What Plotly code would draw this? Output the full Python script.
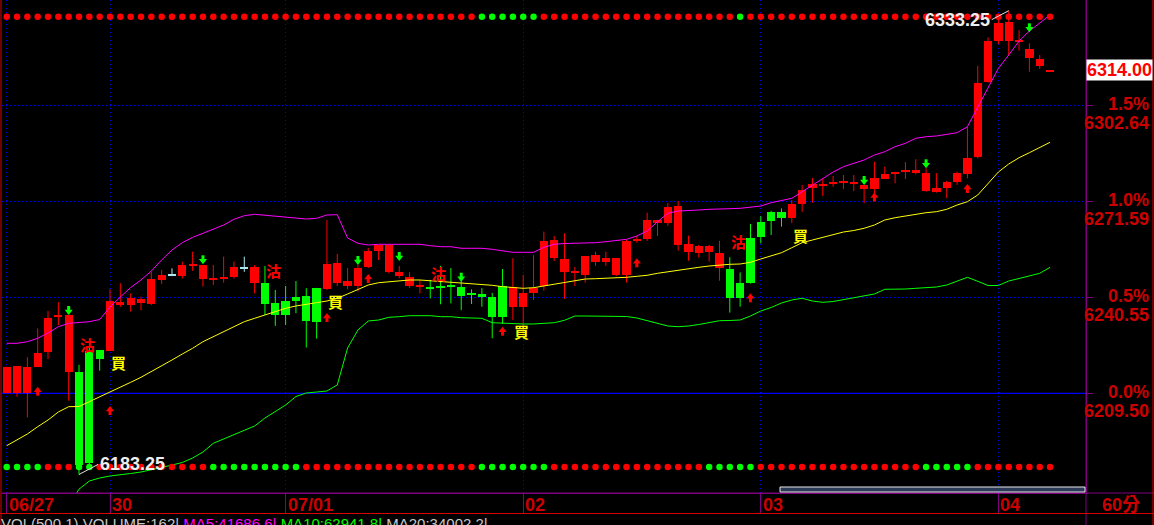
import plotly.graph_objects as go

# ---------------- data (60-minute bars, index 0..101) ----------------
opens = [6209.5, 6209.5, 6209.5, 6218.1, 6223.0, 6234.3, 6216.5, 6216.5, 6223.2, 6223.5,
         6223.3, 6238.1, 6238.1, 6238.8, 6238.4, 6246.2, 6247.9, 6247.4, 6250.7, 6246.5,
         6246.2, 6246.6, 6247.1, 6250.1, 6245.2, 6245.2, 6238.7, 6239.4, 6240.7, 6241.0,
         6243.6, 6243.1, 6245.2, 6244.2, 6244.2, 6250.4, 6255.5, 6248.7, 6247.4, 6244.2,
         6244.0, 6243.6, 6243.9, 6244.3, 6243.8, 6241.6, 6241.6, 6240.7, 6244.2, 6237.5,
         6237.5, 6242.0, 6244.2, 6253.4, 6248.8, 6248.7, 6247.8, 6252.1, 6252.0, 6247.8,
         6247.8, 6258.9, 6259.3, 6264.7, 6264.5, 6257.5, 6255.3, 6254.9, 6255.3, 6249.9,
         6249.7, 6245.2, 6259.6, 6264.9, 6268.0, 6268.1, 6266.3, 6270.7, 6275.8, 6276.7,
         6277.2, 6277.8, 6277.3, 6275.5, 6275.5, 6278.8, 6280.4, 6281.3, 6280.8, 6274.9,
         6274.7, 6276.0, 6277.9, 6280.4, 6285.8, 6310.3, 6323.4, 6323.4, 6323.4, 6318.0,
         6315.5, 6313.6]
highs = [6218.1, 6218.3, 6221.2, 6230.5, 6236.1, 6239.0, 6234.8, 6218.7, 6224.5, 6223.5,
         6243.2, 6245.1, 6241.8, 6240.8, 6248.8, 6249.4, 6249.9, 6252.1, 6255.3, 6251.0,
         6251.0, 6253.7, 6252.1, 6253.7, 6251.0, 6250.7, 6242.9, 6244.2, 6245.8, 6243.5,
         6243.6, 6265.6, 6254.6, 6250.0, 6251.0, 6256.5, 6257.5, 6257.5, 6250.7, 6248.7,
         6246.2, 6246.2, 6250.7, 6250.0, 6246.2, 6243.1, 6243.5, 6242.0, 6249.7, 6253.2,
         6247.8, 6254.2, 6261.8, 6260.4, 6261.3, 6250.4, 6253.9, 6255.3, 6255.3, 6253.3,
         6259.1, 6260.4, 6267.9, 6265.6, 6271.0, 6271.7, 6260.5, 6257.5, 6257.5, 6258.8,
         6253.5, 6248.6, 6264.3, 6266.8, 6268.5, 6269.3, 6272.0, 6276.9, 6279.1, 6279.1,
         6279.8, 6280.1, 6280.1, 6276.9, 6284.4, 6282.8, 6281.1, 6284.3, 6285.2, 6282.3,
         6280.7, 6278.2, 6281.2, 6295.7, 6315.4, 6324.6, 6330.5, 6333.25, 6327.0, 6322.7,
         6318.9, 6314.0]
lows = [6209.5, 6208.4, 6201.7, 6218.1, 6220.6, 6231.5, 6207.1, 6183.25, 6185.5, 6216.8,
        6223.3, 6237.5, 6235.9, 6236.4, 6238.1, 6244.9, 6247.4, 6246.6, 6249.1, 6244.0,
        6244.5, 6245.3, 6246.6, 6248.8, 6241.8, 6234.8, 6231.3, 6231.6, 6235.4, 6224.3,
        6227.2, 6242.9, 6244.2, 6243.1, 6242.4, 6250.0, 6252.6, 6248.3, 6246.7, 6243.6,
        6241.8, 6240.2, 6238.3, 6238.6, 6236.4, 6238.4, 6237.5, 6227.3, 6231.9, 6233.2,
        6227.8, 6239.7, 6242.7, 6252.3, 6240.0, 6244.2, 6245.3, 6250.7, 6250.7, 6247.4,
        6245.3, 6258.2, 6258.8, 6260.4, 6263.7, 6255.6, 6252.4, 6253.4, 6252.1, 6245.9,
        6235.6, 6237.5, 6245.0, 6258.0, 6260.7, 6263.4, 6264.5, 6268.2, 6271.1, 6273.3,
        6276.3, 6275.6, 6274.9, 6271.0, 6273.6, 6278.8, 6277.4, 6278.8, 6280.3, 6274.7,
        6274.4, 6272.6, 6276.9, 6279.0, 6285.5, 6310.0, 6322.4, 6318.9, 6320.3, 6313.5,
        6314.4, 6313.6]
closes = [6218.1, 6218.3, 6217.9, 6222.6, 6234.0, 6234.8, 6234.8, 6186.3, 6186.9, 6220.6,
          6239.4, 6239.1, 6240.4, 6240.0, 6246.5, 6247.8, 6247.9, 6251.0, 6251.0, 6251.0,
          6246.8, 6247.1, 6250.4, 6250.1, 6250.4, 6238.4, 6234.8, 6234.8, 6239.4, 6232.9,
          6232.6, 6251.3, 6251.6, 6245.8, 6250.0, 6255.5, 6257.5, 6257.5, 6248.7, 6247.1,
          6244.3, 6243.3, 6243.6, 6244.1, 6241.1, 6241.4, 6240.7, 6234.3, 6234.3, 6243.8,
          6241.9, 6243.5, 6258.8, 6259.1, 6252.8, 6249.0, 6253.9, 6254.2, 6253.3, 6253.3,
          6258.8, 6259.1, 6265.6, 6265.6, 6269.9, 6270.2, 6257.8, 6257.2, 6257.2, 6254.9,
          6240.2, 6240.2, 6245.3, 6260.2, 6265.3, 6266.3, 6270.7, 6275.3, 6277.2, 6277.0,
          6277.9, 6278.1, 6277.6, 6276.9, 6279.0, 6280.3, 6281.1, 6281.6, 6281.7, 6280.8,
          6275.8, 6277.8, 6280.7, 6285.7, 6310.0, 6323.4, 6329.4, 6329.7, 6323.7, 6320.8,
          6317.6, 6314.0]

# Bollinger bands (upper / middle / lower)
upper = [6225.67, 6225.67, 6226.19, 6227.29, 6229.00, 6231.04, 6232.14, 6232.34, 6232.66, 6233.37,
         6237.41, 6240.65, 6243.72, 6246.15, 6249.06, 6252.61, 6255.85, 6258.21, 6259.95, 6261.25,
         6262.54, 6263.93, 6265.78, 6266.94, 6267.39, 6267.07, 6266.62, 6266.36, 6266.10, 6265.87,
         6266.10, 6267.17, 6267.26, 6259.73, 6258.01, 6257.46, 6257.69, 6257.69, 6257.69, 6257.69,
         6257.69, 6257.24, 6256.92, 6256.92, 6256.40, 6256.40, 6256.40, 6256.07, 6255.62, 6255.10,
         6255.10, 6255.10, 6256.72, 6257.69, 6257.95, 6258.01, 6258.01, 6258.21, 6258.53, 6258.85,
         6259.31, 6260.38, 6261.99, 6265.00, 6267.72, 6268.46, 6268.56, 6268.78, 6269.01, 6269.20,
         6269.20, 6269.33, 6269.66, 6270.08, 6271.15, 6271.79, 6272.57, 6274.70, 6276.87, 6279.13,
         6281.07, 6282.79, 6283.89, 6284.95, 6286.57, 6287.64, 6289.26, 6290.36, 6291.97, 6292.49,
         6292.72, 6293.20, 6293.78, 6295.72, 6302.19, 6308.14, 6314.61, 6318.91, 6323.44, 6326.67,
         6329.16, 6331.85]
middle = [6192.56, 6194.40, 6196.34, 6198.70, 6200.87, 6203.46, 6205.17, 6205.23, 6206.79, 6208.21,
          6209.70, 6211.44, 6213.06, 6214.68, 6216.49, 6218.33, 6220.27, 6222.21, 6224.06, 6226.19,
          6227.81, 6229.42, 6231.04, 6232.66, 6233.76, 6234.83, 6235.89, 6236.99, 6237.74, 6238.38,
          6238.81, 6239.35, 6240.23, 6241.62, 6243.14, 6244.53, 6245.27, 6245.60, 6245.92, 6246.15,
          6246.15, 6245.92, 6245.60, 6245.40, 6245.08, 6245.08, 6244.75, 6244.43, 6243.98, 6243.66,
          6243.46, 6243.66, 6244.20, 6244.85, 6245.50, 6246.05, 6246.47, 6246.57, 6246.70, 6246.79,
          6247.02, 6247.34, 6247.67, 6248.31, 6248.83, 6249.38, 6249.80, 6250.25, 6250.67, 6251.00,
          6251.22, 6251.32, 6251.87, 6252.94, 6253.91, 6254.97, 6256.59, 6258.21, 6259.08, 6259.95,
          6260.93, 6261.67, 6262.15, 6262.87, 6263.93, 6265.55, 6266.29, 6266.84, 6267.49, 6267.91,
          6268.23, 6269.01, 6270.40, 6271.47, 6273.64, 6277.52, 6281.07, 6283.66, 6285.70, 6287.32,
          6288.93, 6290.68]
lower = [None, None, None, None, None, None, 6173.0, 6178.5, 6181.14, 6182.11,
         6182.76, 6183.08, 6183.57, 6184.05, 6184.70, 6185.51, 6186.31, 6187.12, 6188.58, 6190.52,
         6193.33, 6194.72, 6196.02, 6197.47, 6198.93, 6201.51, 6203.62, 6205.72, 6208.47, 6209.60,
         6209.92, 6210.25, 6212.19, 6224.15, 6229.97, 6232.89, 6233.21, 6234.08, 6234.28, 6234.60,
         6234.60, 6234.60, 6234.28, 6234.28, 6233.95, 6233.95, 6233.76, 6232.34, 6232.14, 6231.92,
         6231.92, 6231.92, 6232.14, 6232.34, 6233.11, 6234.50, 6234.50, 6234.50, 6234.50, 6234.50,
         6234.34, 6233.86, 6232.98, 6232.08, 6231.27, 6231.04, 6231.27, 6231.75, 6232.40, 6232.98,
         6233.05, 6233.21, 6234.50, 6236.12, 6237.25, 6238.71, 6239.68, 6240.23, 6239.35, 6238.93,
         6239.19, 6239.84, 6240.49, 6240.97, 6241.62, 6243.14, 6243.14, 6243.23, 6243.46, 6243.66,
         6243.88, 6244.53, 6245.82, 6247.02, 6245.73, 6244.37, 6244.37, 6245.82, 6246.63, 6247.37,
         6248.31, 6250.25]

# session (day) labels and the bar index where each starts
day_labels = ["06/27", "30", "07/01", "02", "03", "04"]
day_start = [0, 10, 27, 50, 73, 96]

# right-hand scale: percent change vs. reference price
pct_labels = ["0.0%", "0.5%", "1.0%", "1.5%"]
pct_prices = [6209.50, 6240.55, 6271.59, 6302.64]
ref_price = 6209.50
last_price = 6314.00
high_label = 6333.25
low_label = 6183.25

# buy (red up) / sell (green down) arrow signals: bar index, arrow tip price
buy_bars = [3, 10, 31, 35, 48, 61, 72, 84, 93]
buy_tips = [6211.64, 6205.40, 6235.47, 6248.09, 6231.04, 6253.16, 6241.84, 6274.44, 6277.19]
sell_bars = [6, 19, 34, 38, 44, 83, 89, 99]
sell_tips = [6234.83, 6251.22, 6251.00, 6252.29, 6245.60, 6276.87, 6282.27, 6326.25]

# text signals
sig_bars = [8, 11, 26, 32, 42, 50, 71, 77]
sig_text = ["沽", "買", "沽", "買", "沽", "買", "沽", "買"]
sig_price = [6225.13, 6219.62, 6249.38, 6239.35, 6248.09, 6229.65, 6258.76, 6260.70]

# state dots (R = red, G = green) along the top and bottom rows
top_state = ("RRRRRRRRRR" "RRRRRRRRRR" "RRRRRRRRRR" "RRRRRRRRRR" "RRRRRRGGGG"
             "GGRRRRRRRR" "RRRRRRRRRR" "RGRRRRRRRR" "RRRRRRRRRR" "RRRRRRRRRR" "RR")
bottom_state = ("GGGGRRRGGR" "RRRRRRRRRR" "GGGGGGGGGR" "RRRRRRRRRR" "RRRRRRGGGG"
                "GGGRRRRRRR" "RRRRRRRRGG" "GGGRRRRRRR" "RRRRRRRRRG" "GGGGRRRRRR" "RR")
top_level = 6331.3
bottom_level = 6185.67

vol_text = [("VOL(500,1) VOLUME:162| ", "#c8c8c8"), ("MA5:41686.6| ", "#ff00ff"),
            ("MA10:62941.8| ", "#00ff00"), ("MA20:34002.2|", "#c8c8c8")]

# ---------------- layout constants ----------------
W, H = 1154, 525
ML, MR, MT, MB = 2, 68, 0, 32
PW, PH = W - ML - MR, H - MT - MB
Y0, Y1 = 6177.26, 6336.70
X0, X1 = -0.455, 104.48
u = (Y1 - Y0) / PH          # price per pixel

RED, GREEN, CYAN = "#ff0000", "#00ff00", "#a8e8f0"
AXIS_RED = "#cc0000"
PURPLE = "#800080"
GRID = "#0000ff"

n = len(opens)
idx = list(range(n))


def ccolor(o, c):
    if c > o:
        return RED
    if c < o:
        return GREEN
    return CYAN


colors = [ccolor(o, c) for o, c in zip(opens, closes)]
min_h = 2 * u
body_base, body_h = [], []
for o, c in zip(opens, closes):
    if abs(c - o) >= min_h:
        body_base.append(min(o, c))
        body_h.append(abs(c - o))
    else:
        body_base.append((o + c) / 2 - min_h / 2)
        body_h.append(min_h)

fig = go.Figure()

# wicks
for col in (RED, GREEN, CYAN):
    wx, wy = [], []
    for i in idx:
        if colors[i] == col:
            wx += [i, i, None]
            wy += [lows[i], highs[i], None]
    if wx:
        fig.add_trace(go.Scatter(x=wx, y=wy, mode="lines", line=dict(color=col, width=1),
                                 hoverinfo="skip"))

# bodies
fig.add_trace(go.Bar(x=idx, y=body_h, base=body_base, width=0.8,
                     marker=dict(color=colors, line=dict(width=0)), hoverinfo="skip"))

# bands
fig.add_trace(go.Scatter(x=idx, y=lower, mode="lines", line=dict(color="#00ff00", width=1),
                         hoverinfo="skip"))
fig.add_trace(go.Scatter(x=idx, y=middle, mode="lines", line=dict(color="#ffff00", width=1),
                         hoverinfo="skip"))
fig.add_trace(go.Scatter(x=idx, y=upper, mode="lines", line=dict(color="#ff00ff", width=1),
                         hoverinfo="skip"))

# state dots
cmap = {"R": "#ff0000", "G": "#00ff00"}
fig.add_trace(go.Scatter(x=idx, y=[top_level] * n, mode="markers",
                         marker=dict(size=6.5, color=[cmap[s] for s in top_state], line=dict(width=0)),
                         hoverinfo="skip"))
fig.add_trace(go.Scatter(x=idx, y=[bottom_level] * n, mode="markers",
                         marker=dict(size=6.5, color=[cmap[s] for s in bottom_state], line=dict(width=0)),
                         hoverinfo="skip"))

# arrows: stems + heads
sx, sy = [], []
for b, t in zip(buy_bars, buy_tips):
    sx += [b, b, None]
    sy += [t - 4 * u, t - 9 * u, None]
fig.add_trace(go.Scatter(x=sx, y=sy, mode="lines", line=dict(color=RED, width=3), hoverinfo="skip"))
fig.add_trace(go.Scatter(x=buy_bars, y=[t - 3.5 * u for t in buy_tips], mode="markers",
                         marker=dict(symbol="triangle-up", size=7, color=RED, line=dict(width=0)),
                         hoverinfo="skip"))
sx, sy = [], []
for b, t in zip(sell_bars, sell_tips):
    sx += [b, b, None]
    sy += [t + 4 * u, t + 9 * u, None]
fig.add_trace(go.Scatter(x=sx, y=sy, mode="lines", line=dict(color=GREEN, width=3), hoverinfo="skip"))
fig.add_trace(go.Scatter(x=sell_bars, y=[t + 3.5 * u for t in sell_tips], mode="markers",
                         marker=dict(symbol="triangle-down", size=7, color=GREEN, line=dict(width=0)),
                         hoverinfo="skip"))

ann = []
# text signals
for b, t, p in zip(sig_bars, sig_text, sig_price):
    ann.append(dict(x=b, y=p, xref="x", yref="y", text="<b>%s</b>" % t, showarrow=False,
                    xshift=-2, font=dict(family="Noto Sans CJK TC", size=15,
                                         color="#ff0000" if t == "沽" else "#ffff00")))

# right axis labels
px_x = lambda px: (px - ML) / PW
px_y = lambda py: (PH - py) / PH
for lab, p in zip(pct_labels, pct_prices):
    ann.append(dict(x=px_x(1151), y=p, xref="paper", yref="y", text="<b>%s</b>" % lab,
                    showarrow=False, xanchor="right", yanchor="middle", yshift=1,
                    font=dict(family="Liberation Sans", size=18, color=AXIS_RED)))
    ann.append(dict(x=px_x(1151), y=p, xref="paper", yref="y", text="<b>%.2f</b>" % p,
                    showarrow=False, xanchor="right", yanchor="middle", yshift=-18,
                    font=dict(family="Liberation Sans", size=18, color=AXIS_RED)))
# last price box
ann.append(dict(x=1.0, y=last_price, xref="paper", yref="y", text="<b>%.2f</b>" % last_price,
                showarrow=False, xanchor="left", yanchor="middle", bgcolor="#ffffff", borderpad=0,
                font=dict(family="Liberation Sans", size=18, color="#ff0000")))
# high / low labels
hi_bar = highs.index(high_label)
lo_bar = lows.index(low_label)
ann.append(dict(x=hi_bar, y=high_label, xref="x", yref="y", text="<b>%.2f</b>" % high_label,
                showarrow=True, arrowhead=0, arrowwidth=1, arrowcolor="#e0e0e0", ax=-17, ay=9,
                xanchor="right", yanchor="middle",
                font=dict(family="Liberation Sans", size=18, color="#eeeeee")))
ann.append(dict(x=lo_bar, y=low_label, xref="x", yref="y", text="<b>%.2f</b>" % low_label,
                showarrow=True, arrowhead=0, arrowwidth=1, arrowcolor="#e0e0e0", ax=19, ay=-10,
                xanchor="left", yanchor="middle",
                font=dict(family="Liberation Sans", size=18, color="#eeeeee")))
# date labels
for lab, b in zip(day_labels, day_start):
    ann.append(dict(x=b, y=px_y(505), xref="x", yref="paper", text="<b>%s</b>" % lab,
                    showarrow=False, xanchor="left", yanchor="middle", xshift=0,
                    font=dict(family="Liberation Sans", size=18, color=AXIS_RED)))
ann.append(dict(x=px_x(1100), y=px_y(505), xref="paper", yref="paper", text="<b>60分</b>",
                showarrow=False, xanchor="left", yanchor="middle",
                font=dict(family="Liberation Sans, Noto Sans CJK TC", size=18, color=AXIS_RED)))
# bottom volume legend (cut by the window edge, as in the source)
vt = "".join('<span style="color:%s">%s</span>' % (c, t) for t, c in vol_text)
ann.append(dict(x=px_x(0), y=px_y(514), xref="paper", yref="paper", text=vt, showarrow=False,
                xanchor="left", yanchor="top", borderpad=0,
                font=dict(family="Liberation Sans", size=15, color="#c8c8c8")))

shapes = [
    # reference (0.0%) line: solid
    dict(type="line", xref="paper", yref="y", x0=0, x1=1, y0=ref_price, y1=ref_price,
         line=dict(color="#0000ff", width=1.3), layer="below"),
    # right axis separator down to the bottom
    dict(type="line", xref="paper", yref="paper", x0=1, x1=1, y0=px_y(525), y1=1,
         line=dict(color=PURPLE, width=1)),
    # x axis line extended right
    dict(type="line", xref="paper", yref="paper", x0=0, x1=px_x(1154), y0=0, y1=0,
         line=dict(color=PURPLE, width=1)),
    # red frame
    dict(type="line", xref="paper", yref="paper", x0=px_x(0), x1=px_x(1154), y0=px_y(513.5), y1=px_y(513.5),
         line=dict(color="#dd0000", width=1)),
    dict(type="line", xref="paper", yref="paper", x0=px_x(1), x1=px_x(1), y0=px_y(525), y1=1,
         line=dict(color="#dd0000", width=1)),
    dict(type="line", xref="paper", yref="paper", x0=px_x(1153), x1=px_x(1153), y0=px_y(525), y1=1,
         line=dict(color="#dd0000", width=1)),
    # scroll bar
    dict(type="rect", xref="paper", yref="paper", x0=px_x(780), x1=px_x(1085), y0=px_y(492),
         y1=px_y(487), fillcolor="#2a3a58", line=dict(color="#e8e8e8", width=1)),
]

fig.update_layout(
    width=W, height=H, margin=dict(l=ML, r=MR, t=MT, b=MB),
    paper_bgcolor="#000000", plot_bgcolor="#000000", showlegend=False, hovermode=False,
    bargap=0, annotations=ann, shapes=shapes,
    xaxis=dict(range=[X0, X1], tickvals=day_start, showticklabels=False, ticks="outside",
               ticklen=20, tickcolor=PURPLE, tickwidth=1, showgrid=True, gridcolor=GRID,
               griddash="1px,3px", gridwidth=1, showline=True, linecolor=PURPLE, zeroline=False,
               fixedrange=True),
    yaxis=dict(range=[Y0, Y1], side="right", tickvals=pct_prices, showticklabels=False,
               ticks="outside", ticklen=6, tickcolor=PURPLE, showgrid=True, gridcolor=GRID,
               griddash="1px,3px", gridwidth=1, showline=True, linecolor=PURPLE, zeroline=False,
               fixedrange=True),
)

fig.write_html("out.html", config={"displayModeBar": False, "staticPlot": True},
               post_script="document.body.style.margin='0';document.body.style.overflow='hidden';")
